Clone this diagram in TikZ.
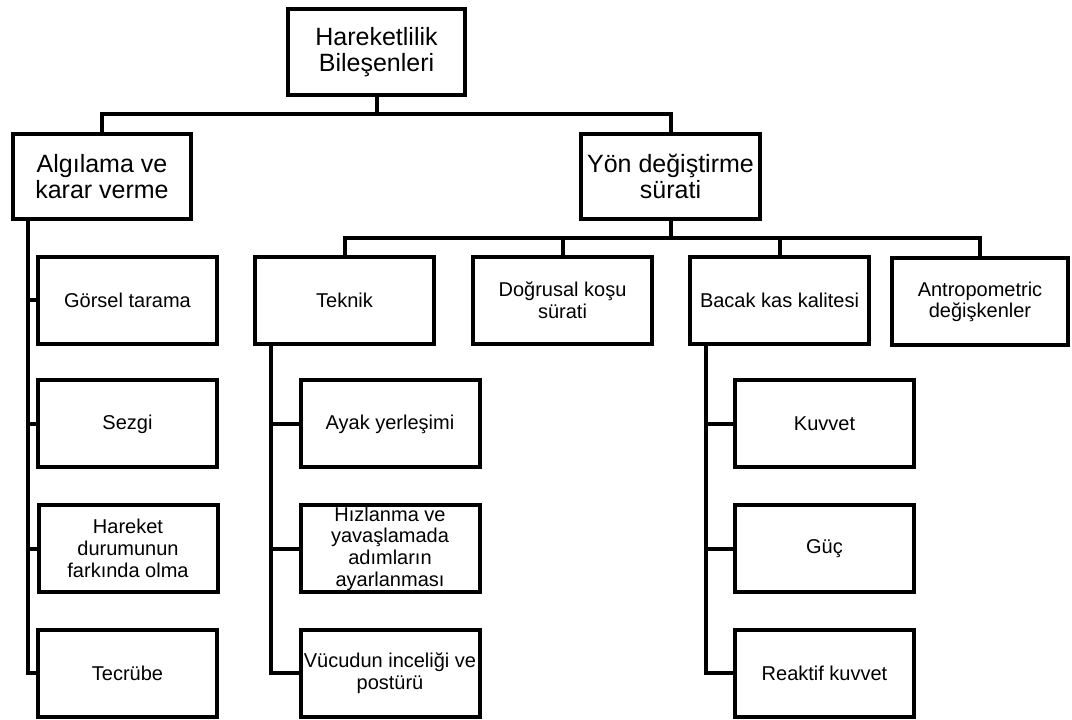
\documentclass[tikz,border=0pt]{standalone}
\usepackage{fontspec}
\setmainfont{Liberation Sans}
\usetikzlibrary{calc}
\newdimen\pxu
\pxu=0.75pt
\begin{document}
\begin{tikzpicture}[x=0.75pt,y=-0.75pt,
  box/.style={draw=black, line width=4\pxu, minimum width=179\pxu, minimum height=87\pxu,
    inner sep=0pt, align=center, font=\fontsize{15}{16.3}\selectfont},
  topbox/.style={box, minimum height=85\pxu, font=\fontsize{18.75}{19.5}\selectfont},
  conn/.style={draw=black, line width=4\pxu}]
\useasboundingbox (0,0) rectangle (1072,720);
% top levels
\node[topbox, minimum width=177\pxu, minimum height=86\pxu] (root) at (376.5,52) {Hareketlilik\\Bileşenleri};
\node[topbox, minimum width=178\pxu] (alg) at (102,176.5) {Algılama ve\\karar verme};
\node[topbox] (yon) at (670.5,176.5) {Yön değiştirme\\sürati};
% left column
\node[box] (gorsel) at (127.5,300.5) {Görsel tarama};
\node[box] (sezgi) at (127.5,424) {Sezgi};
\node[box] (hareket) at (128,548.5) {Hareket\\durumunun\\farkında olma};
\node[box] (tecrube) at (127.5,673) {Tecrübe};
% second row
\node[box] (teknik) at (344.5,300.5) {Teknik};
\node[box] (dogrusal) at (562.5,300.5) {Doğrusal koşu\\sürati};
\node[box] (bacak) at (779.5,300.5) {Bacak kas kalitesi};
\node[box, minimum width=176\pxu] (antro) at (980,302) {Antropometric\\değişkenler};
% teknik children
\node[box] (ayak) at (390,424) {Ayak yerleşimi};
\node[box] (hizlanma) at (390,548.5) {Hızlanma ve\\yavaşlamada\\adımların\\ayarlanması};
\node[box] (vucud) at (390,673) {Vücudun inceliği ve\\postürü};
% bacak children
\node[box] (kuvvet) at (824.5,424) {Kuvvet};
\node[box] (guc) at (824.5,548.5) {Güç};
\node[box] (reaktif) at (824.5,673) {Reaktif kuvvet};
% bars
\coordinate (b1) at (0,114);
\coordinate (b2) at (0,238);
\draw[conn] (root.south) -- (root.south |- b1);
\draw[conn] (alg.north) -- (alg.north |- b1) -- (yon.north |- b1) -- (yon.north);
\draw[conn] (yon.south) -- (yon.south |- b2);
\draw[conn] (teknik.north) -- (teknik.north |- b2) -- (antro.north |- b2) -- (antro.north);
\draw[conn] (dogrusal.north) -- (dogrusal.north |- b2);
\draw[conn] (bacak.north) -- (bacak.north |- b2);
% left vertical
\coordinate (lx) at ($(alg.south west)+(17,0)$);
\draw[conn] (lx) |- (tecrube.west);
\draw[conn] (lx |- gorsel.west) -- (gorsel.west);
\draw[conn] (lx |- sezgi.west) -- (sezgi.west);
\draw[conn] (lx |- hareket.west) -- (hareket.west);
% teknik vertical
\coordinate (tx) at ($(teknik.south west)+(18,0)$);
\draw[conn] (tx) |- (vucud.west);
\draw[conn] (tx |- ayak.west) -- (ayak.west);
\draw[conn] (tx |- hizlanma.west) -- (hizlanma.west);
% bacak vertical
\coordinate (bx) at ($(bacak.south west)+(18,0)$);
\draw[conn] (bx) |- (reaktif.west);
\draw[conn] (bx |- kuvvet.west) -- (kuvvet.west);
\draw[conn] (bx |- guc.west) -- (guc.west);
\end{tikzpicture}
\end{document}
